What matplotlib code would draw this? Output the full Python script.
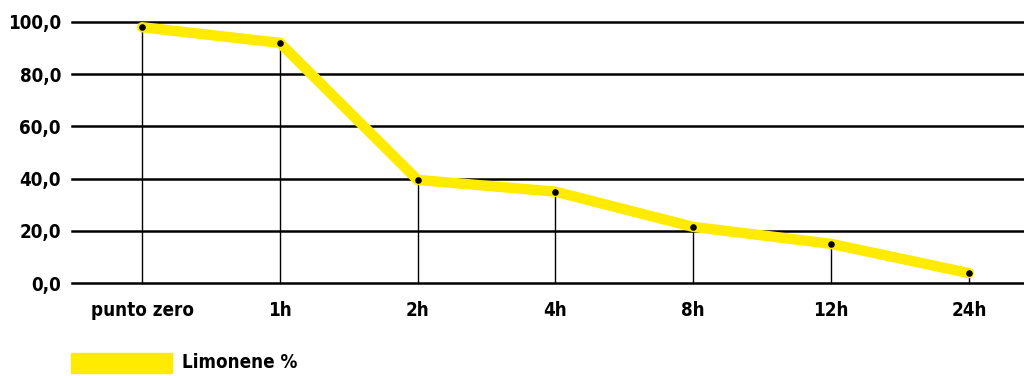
import matplotlib
matplotlib.use("Agg")
import matplotlib.pyplot as plt
from matplotlib.patches import Rectangle

categories = ["punto zero", "1h", "2h", "4h", "8h", "12h", "24h"]
limonene = [98.0, 92.0, 39.5, 35.0, 21.5, 15.0, 3.8]
yticks = [0, 20, 40, 60, 80, 100]
series_label = "Limonene %"

plt.rcParams["font.family"] = ["DejaVu Sans"]
plt.rcParams["font.weight"] = "bold"
plt.rcParams["font.stretch"] = "condensed"
FS = 13.5

W, H = 1024, 376
fig = plt.figure(figsize=(W / 100, H / 100), dpi=100)
# axes in pixel units: left 72, right 1024, bottom y=283, top y=22
ax = fig.add_axes([72 / W, (H - 283) / H, (1024 - 72) / W, (283 - 22) / H])

x = list(range(len(categories)))
ax.set_xlim(-0.508, 6.4)
ax.set_ylim(0, 100)

for yv in yticks:
    ax.axhline(yv, color="black", lw=1.8, zorder=1, clip_on=False)

ax.vlines(x, 0, limonene, color="black", lw=1.0, zorder=2)
ax.plot(x, limonene, color="#FFEB00", lw=7.5, solid_capstyle="round",
        solid_joinstyle="miter", zorder=3)
ax.scatter(x, limonene, s=14, color="black", zorder=4)

for s in ax.spines.values():
    s.set_visible(False)
ax.set_xticks(x)
ax.set_xticklabels(categories, fontsize=FS, fontweight="bold")
ax.set_yticks(yticks)
ax.set_yticklabels([f"{v:.1f}".replace(".", ",") for v in yticks],
                   fontsize=FS, fontweight="bold")
ax.tick_params(axis="both", length=0)
ax.tick_params(axis="x", pad=13)
ax.tick_params(axis="y", pad=8)

# legend
fig.patches.append(Rectangle((71 / W, (H - 373) / H), 101 / W, 20 / H,
                             transform=fig.transFigure, color="#FFEB00"))
fig.text(182 / W, (H - 363) / H, series_label, fontsize=FS,
         fontweight="bold", va="center", ha="left")

fig.savefig("out.png", dpi=100)
